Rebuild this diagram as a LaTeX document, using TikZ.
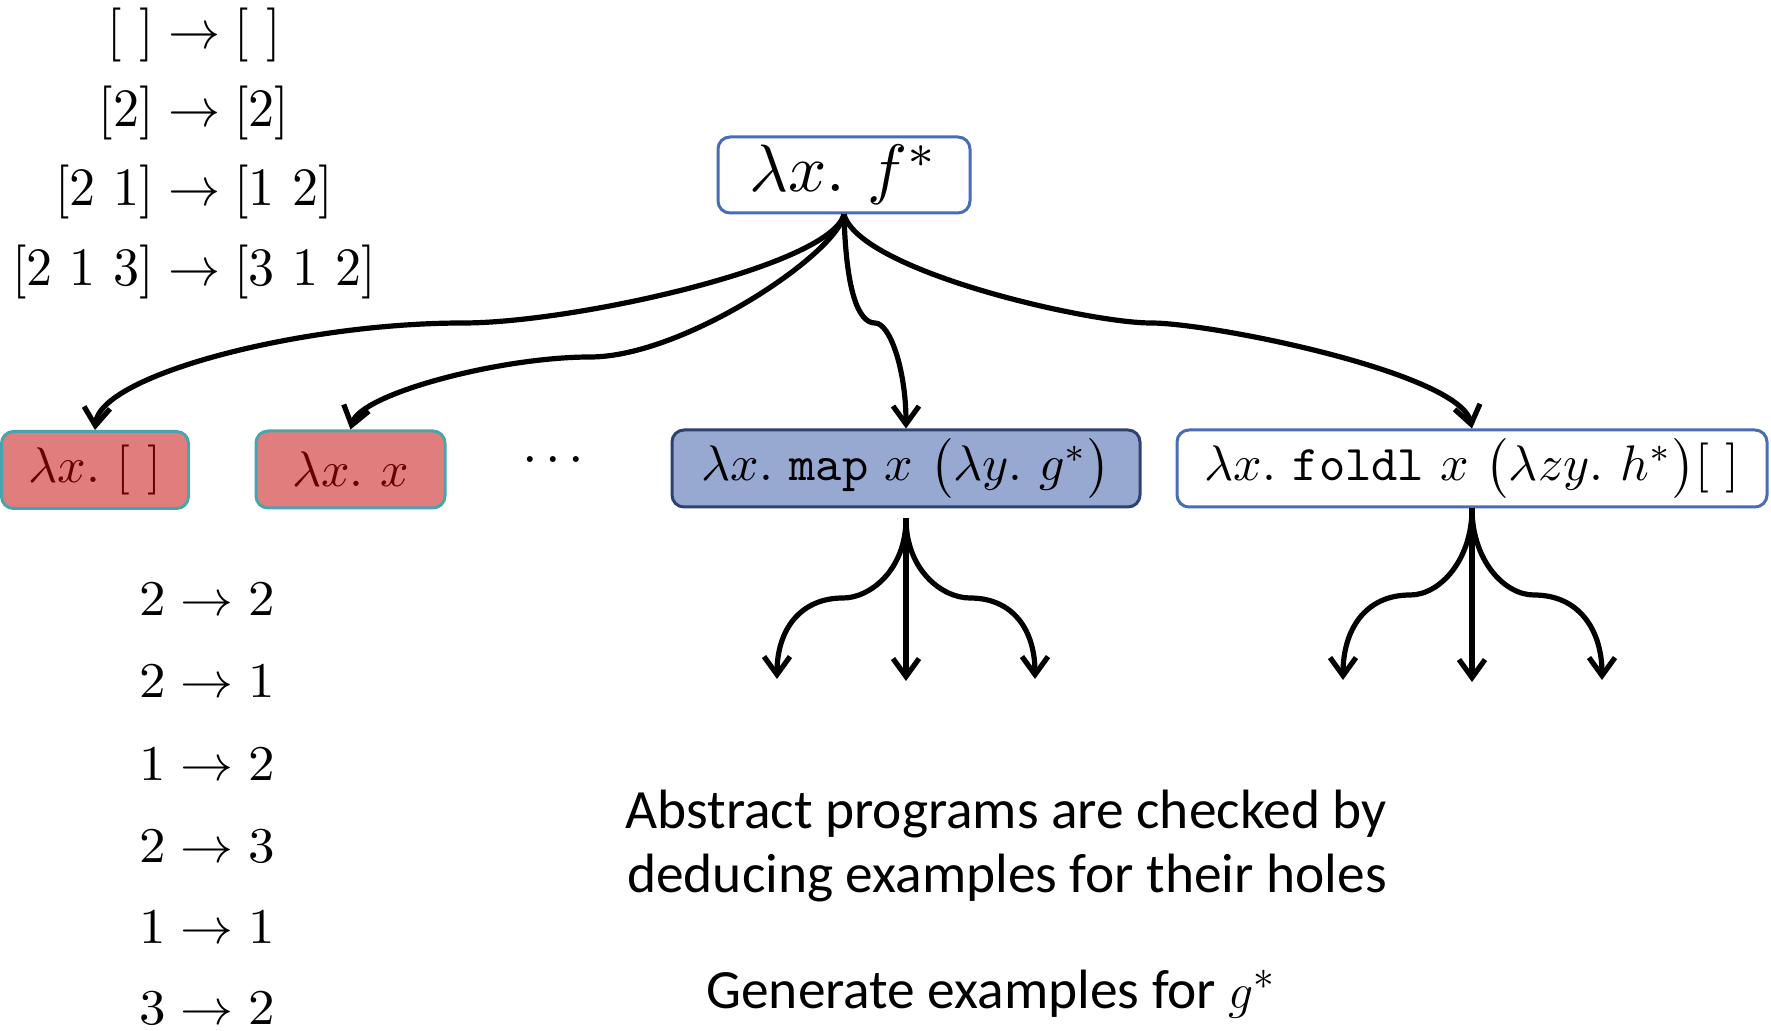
\documentclass[tikz,border=0pt]{standalone}
\usepackage{fontspec}
\setsansfont{Carlito}
\usepackage{graphicx}
\usetikzlibrary{arrows.meta}

\definecolor{redfill}{RGB}{224,126,126}
\definecolor{rededge}{RGB}{75,163,173}
\definecolor{redtext}{RGB}{100,0,0}
\definecolor{bluefill}{RGB}{151,169,208}
\definecolor{blueedge}{RGB}{46,66,114}
\definecolor{lightedge}{RGB}{72,108,184}

% formulas are set at 10pt and enlarged, keeping the 10pt glyph shapes
\newcommand{\prog}[2][2.5]{\scalebox{#1}{$#2$}}
% one input/output example, aligned on its arrow
\newcommand{\exmap}[2]{\llap{$#1\;$}$\rightarrow$\rlap{$\;#2$}}

\begin{document}
\begin{tikzpicture}[x=0.5pt,y=-0.5pt,
  box/.style={draw, rounded corners=6pt, line width=1.5pt, inner sep=0pt, align=center,
              font=\fontsize{10}{12}\selectfont},
  progbox/.style={box, minimum height=38.5pt},
  failbox/.style={progbox, fill=redfill, draw=rededge, text=redtext},
  mapbox/.style={progbox, fill=bluefill, draw=blueedge},
  openbox/.style={progbox, fill=white, draw=lightedge},
  conn/.style={line width=2.6pt, -{Straight Barb[length=9pt,width=13pt]}},
  exnode/.style={inner sep=0pt, font=\fontsize{10}{12}\selectfont},
  caption/.style={inner sep=0pt, anchor=base, font=\fontsize{27.7}{32}\sffamily}]
\useasboundingbox (0,0) rectangle (1771,1031);

% examples for f
\node[exnode] (ex1) at (194,35)  {\scalebox{2.6}[2.7]{\exmap{[\ ]}{[\ ]}}};
\node[exnode] (ex2) at (194,113) {\scalebox{2.6}[2.7]{\exmap{[2]}{[2]}}};
\node[exnode] (ex3) at (194,192) {\scalebox{2.6}[2.7]{\exmap{[2\ 1]}{[1\ 2]}}};
\node[exnode] (ex4) at (194,272) {\scalebox{2.6}[2.7]{\exmap{[2\ 1\ 3]}{[3\ 1\ 2]}}};

% root hypothesis
\node[box, draw=lightedge, fill=white, minimum width=126pt, minimum height=38pt]
  (root) at (844,175) {\prog[3.35]{\lambda x.\ f^*}};

% candidate programs
\node[failbox, minimum width=93.5pt] (empty) at (95,470) {\prog{\lambda x.\ [\ ]}};
\node[failbox, minimum width=94.5pt] (ident) at (350.5,469.5) {\prog{\lambda x.\ x}};
\node[exnode] (dots) at (553,461) {\prog[2.8]{{\cdot}\mkern2.4mu{\cdot}\mkern2.4mu{\cdot}}};
\node[mapbox, minimum width=234pt] (map) at (906,468.5)
  {\prog{\lambda x.\ \texttt{map}\ x\ \big(\lambda y.\ g^*\big)}};
\node[openbox, minimum width=295pt] (fold) at (1472,468.5)
  {\prog{\lambda x.\ \texttt{foldl}\ x\ \big(\lambda zy.\ h^*\big)[\ ]}};

% bends of the branches
\coordinate (m1) at (463,323);
\coordinate (m2) at (590,357);
\coordinate (m3) at (875,323);
\coordinate (m4) at (1151,323);

\draw[conn] (root.south) .. controls (830,266) and (574,323) .. (m1)
                         .. controls (301,323) and (100,375) .. (empty.north);
\draw[conn] (root.south) .. controls (838,253) and (684,357) .. (m2)
                         .. controls (500,357) and (360,394) .. (ident.north);
\draw[conn] (root.south) .. controls (846,290) and (858,323) .. (m3)
                         .. controls (890,323) and (906,370) .. (map.north);
\draw[conn] (root.south) .. controls (860,271) and (1088,323) .. (m4)
                         .. controls (1212,323) and (1460,373) .. (fold.north);

% expansions below map
\coordinate (mapstem) at ([yshift=-5pt]map.south);
\coordinate (mapL) at (777,679);
\coordinate (mapC) at (906,681);
\coordinate (mapR) at (1035,679);
\draw[conn] (mapstem) .. controls (906,570) and (870,598) .. (843,598)
                      .. controls (800,598) and (777,630) .. (mapL);
\draw[conn] (mapstem) -- (mapC);
\draw[conn] (mapstem) .. controls (906,570) and (942,598) .. (970,598)
                      .. controls (1013,598) and (1035,630) .. (mapR);

% expansions below foldl
\coordinate (foldL) at (1343,680);
\coordinate (foldC) at (1472,682);
\coordinate (foldR) at (1602,680);
\draw[conn] (fold.south) .. controls (1472,560) and (1440,595) .. (1410,595)
                         .. controls (1365,595) and (1343,630) .. (foldL);
\draw[conn] (fold.south) -- (foldC);
\draw[conn] (fold.south) .. controls (1472,560) and (1504,595) .. (1534,595)
                         .. controls (1579,595) and (1602,630) .. (foldR);

% examples for g
\node[exnode] (g1) at (207,599)  {\scalebox{2.65}[2.5]{\exmap{2}{2}}};
\node[exnode] (g2) at (207,681)  {\scalebox{2.65}[2.5]{\exmap{2}{1}}};
\node[exnode] (g3) at (207,764)  {\scalebox{2.65}[2.5]{\exmap{1}{2}}};
\node[exnode] (g4) at (207,846)  {\scalebox{2.65}[2.5]{\exmap{2}{3}}};
\node[exnode] (g5) at (207,927)  {\scalebox{2.65}[2.5]{\exmap{1}{1}}};
\node[exnode] (g6) at (207,1008) {\scalebox{2.65}[2.5]{\exmap{3}{2}}};

% captions
\node[caption] (cap1) at (1006,828) {Abstract programs are checked by};
\node[caption] (cap2) at (1007,892) {deducing examples for their holes};
\node[caption] (cap3) at (991,1008) {Generate examples for $g^*$};
\end{tikzpicture}
\end{document}
